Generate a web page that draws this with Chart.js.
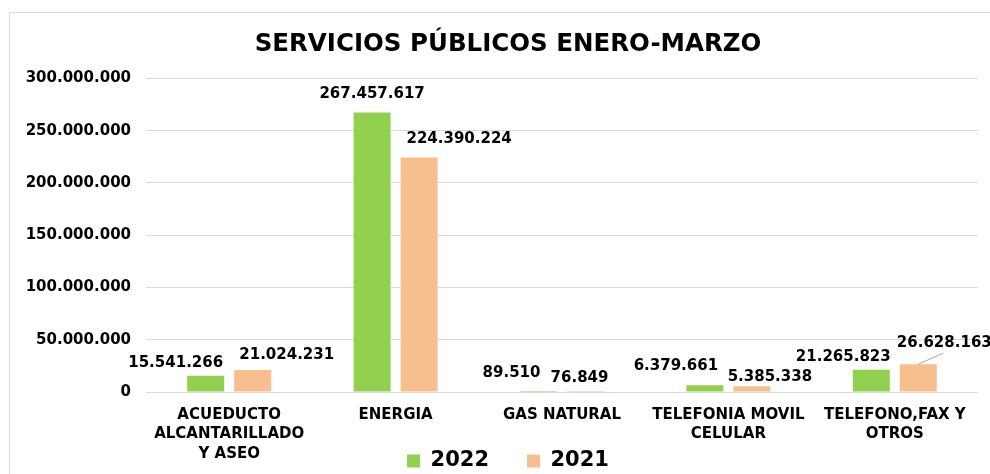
<!DOCTYPE html>
<html>
<head>
<meta charset="utf-8">
<script src="https://cdn.jsdelivr.net/npm/chart.js@4.4.1/dist/chart.umd.min.js"></script>
<style>
    html, body { margin: 0; padding: 0; background: #ffffff; }
    #wrap { width: 990px; height: 474px; position: relative; }
</style>
</head>
<body>
<div id="wrap"><canvas id="myChart" width="990" height="474"></canvas></div>
<script>
const categories = [
    ["ACUEDUCTO", "ALCANTARILLADO", "Y ASEO"],
    "ENERGIA",
    "GAS NATURAL",
    ["TELEFONIA MOVIL", "CELULAR"],
    ["TELEFONO,FAX Y", "OTROS"]
];
const values2022 = [15541266, 267457617, 89510, 6379661, 21265823];
const values2021 = [21024231, 224390224, 76849, 5385338, 26628163];
const yTicks = [0, 50000000, 100000000, 150000000, 200000000, 250000000, 300000000];

// label placement next to each bar: [dx, distance above bar top]
const labelShift2022 = [[-30, 13], [0, 18], [-27, 19], [-29, 19], [-28, 13]];
const labelShift2021 = [[34, 15], [40, 18], [-6, 14], [18, 9], [26, 21]];

const FONT = "'DejaVu Sans', Verdana, sans-serif";

function formatDots(n) {
    return String(Math.round(n)).replace(/\B(?=(\d{3})+(?!\d))/g, ".");
}

const framePlugin = {
    id: "frame",
    beforeDraw(chart) {
        let ctx = chart.ctx;
        ctx.save();
        ctx.fillStyle = "#ffffff";
        ctx.fillRect(0, 0, chart.width, chart.height);
        ctx.strokeStyle = "#d9d9d9";
        ctx.lineWidth = 1;
        ctx.beginPath();
        ctx.moveTo(9.5, chart.height + 2);
        ctx.lineTo(9.5, 12.5);
        ctx.lineTo(chart.width + 2, 12.5);
        ctx.stroke();
        ctx.restore();
    }
};

const valueLabels = {
    id: "valueLabels",
    afterDatasetsDraw(chart) {
        let ctx = chart.ctx;
        ctx.save();
        ctx.font = "bold 15px " + FONT;
        ctx.fillStyle = "#000000";
        ctx.textAlign = "center";
        ctx.textBaseline = "middle";
        const shifts = [labelShift2022, labelShift2021];
        chart.data.datasets.forEach((ds, di) => {
            let meta = chart.getDatasetMeta(di);
            meta.data.forEach((bar, i) => {
                let s = shifts[di][i];
                let tx = bar.x + s[0];
                let ty = bar.y - s[1];
                if (di === 1 && i === 4) {
                    // leader line to the moved label
                    ctx.strokeStyle = "#a6a6a6";
                    ctx.lineWidth = 1;
                    ctx.beginPath();
                    ctx.moveTo(bar.x, bar.y);
                    ctx.lineTo(bar.x + 25, bar.y - 11);
                    ctx.stroke();
                }
                ctx.fillText(formatDots(ds.data[i]), tx, ty);
            });
        });
        ctx.restore();
    }
};

// tick labels may spill outside their axis box
function noLabelClip(scale) {
    scale._computeLabelArea = () => null;
}

let ctx = document.getElementById("myChart").getContext("2d");
new Chart(ctx, {
    type: "bar",
    data: {
        labels: categories,
        datasets: [{
            label: "2022",
            data: values2022,
            backgroundColor: "#92d050",
            categoryPercentage: 0.565,
            barPercentage: 0.787
        }, {
            label: "2021",
            data: values2021,
            backgroundColor: "#f8bf8e",
            categoryPercentage: 0.565,
            barPercentage: 0.787
        }]
    },
    options: {
        responsive: false,
        animation: false,
        devicePixelRatio: 1,
        layout: {
            padding: { left: 38, right: 12, top: 0, bottom: 5.5 }
        },
        plugins: {
            title: {
                display: true,
                text: "SERVICIOS PÚBLICOS ENERO-MARZO",
                color: "#000000",
                font: { family: FONT, size: 24.5, weight: "bold", lineHeight: 1.2 },
                padding: { top: 30, bottom: 19 }
            },
            legend: {
                position: "bottom",
                maxHeight: 56,
                labels: {
                    color: "#000000",
                    boxWidth: 13,
                    boxHeight: 13,
                    padding: 38,
                    font: { family: FONT, size: 21, weight: "bold" }
                }
            },
            tooltip: { enabled: false }
        },
        scales: {
            x: {
                grid: { display: false, drawTicks: false },
                border: { display: false },
                ticks: {
                    color: "#000000",
                    padding: 14,
                    maxRotation: 0,
                    autoSkip: false,
                    font: { family: FONT, size: 15, weight: "bold", lineHeight: 1.27 }
                },
                afterFit(scale) {
                    scale.height = 20.5;
                    noLabelClip(scale);
                }
            },
            y: {
                min: 0,
                max: 300000000,
                afterBuildTicks(scale) {
                    scale.ticks = yTicks.map(v => ({ value: v }));
                },
                grid: { color: "#d9d9d9", drawTicks: false },
                border: { display: false },
                ticks: {
                    color: "#000000",
                    padding: 15,
                    font: { family: FONT, size: 15, weight: "bold" },
                    callback: (v) => formatDots(v)
                },
                afterFit(scale) {
                    scale.width = 108;
                    noLabelClip(scale);
                }
            }
        }
    },
    plugins: [framePlugin, valueLabels]
});
</script>
</body>
</html>
